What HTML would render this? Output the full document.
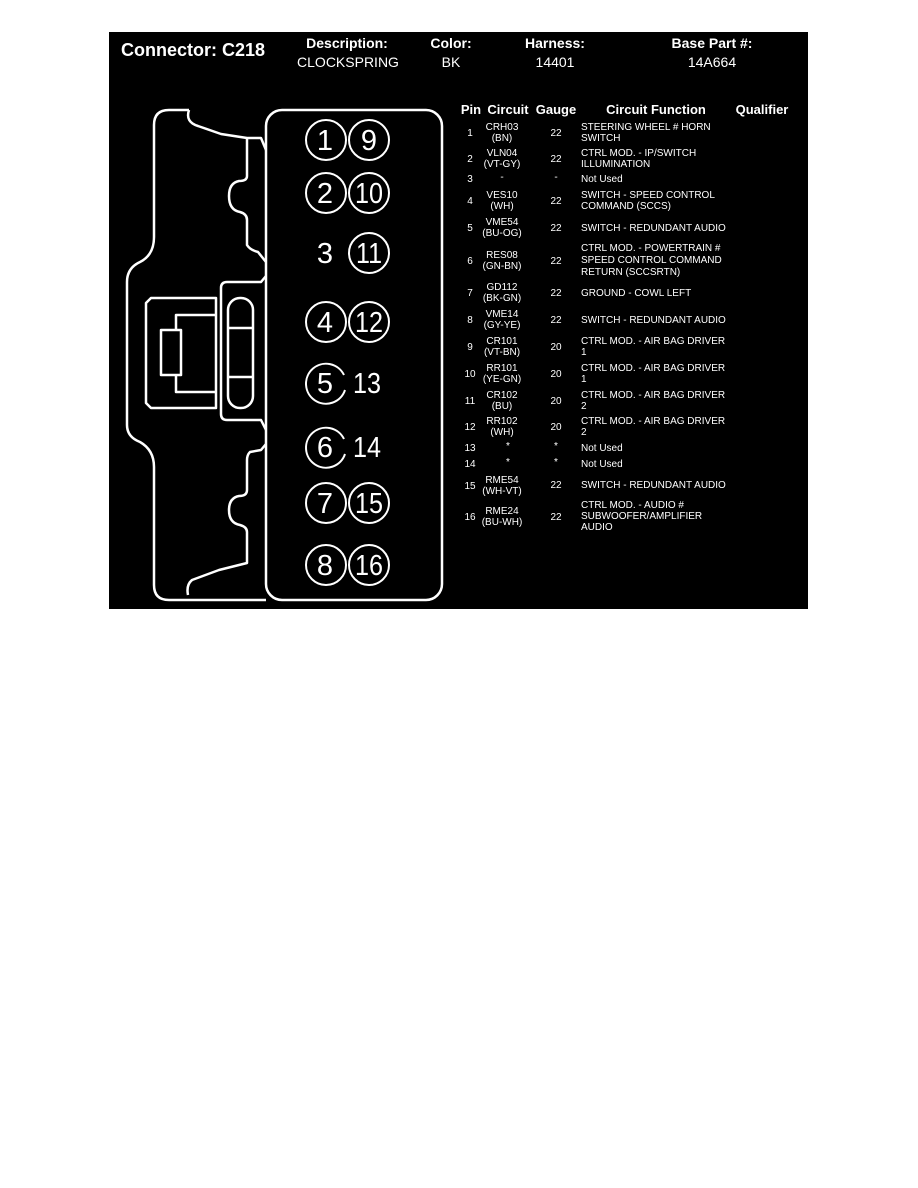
<!DOCTYPE html>
<html><head><meta charset="utf-8"><style>
body{margin:0;background:#fff;width:918px;height:1188px;position:relative;font-family:"Liberation Sans",Arial,sans-serif;}
#bk{position:absolute;left:109px;top:32px;width:699px;height:577px;background:#000;}
.t{position:absolute;color:#fff;white-space:nowrap;}
.c{transform:translateX(-50%);text-align:center;}
.h{font-weight:bold;font-size:14px;}
.s{font-size:10px;line-height:11px;}
</style></head><body>
<div id="bk"></div>
<div class="t" style="left:121px;top:40px;font-size:18px;font-weight:bold;">Connector: C218</div>
<div class="t c h" style="left:347px;top:35px;">Description:</div>
<div class="t c" style="left:348px;top:54px;font-size:14px;">CLOCKSPRING</div>
<div class="t c h" style="left:451px;top:35px;">Color:</div>
<div class="t c" style="left:451px;top:54px;font-size:14px;">BK</div>
<div class="t c h" style="left:555px;top:35px;">Harness:</div>
<div class="t c" style="left:555px;top:54px;font-size:14px;">14401</div>
<div class="t c h" style="left:712px;top:35px;">Base Part #:</div>
<div class="t c" style="left:712px;top:54px;font-size:14px;">14A664</div>

<svg style="position:absolute;left:0;top:0" width="918" height="1188" fill="none" stroke="#fff" stroke-width="2.5" stroke-linejoin="round">
<rect x="266" y="110" width="176" height="490" rx="16"/>
<path d="M189,110 L169,110 Q154,110 154,125 L154,237 Q154,255 140,262 Q127,268 127,282 L127,425 Q127,437 140,442 Q154,450 154,467 L154,585 Q154,600 169,600 L266,600"/>
<path d="M189,110 Q185,122 198,126 L221,134 L247,138 L261,138 L266,150"/>
<path d="M247,138 L247,176 Q247,181 239,181 Q229,183 229,196 Q229,210 240,212 Q247,214 247,220 L247,245 Q250,250 258,252 L266,262"/>
<path d="M266,276 L261,282 L227,282 Q221,282 221,288 L221,414 Q221,420 227,420 L261,420 L266,430"/>
<path d="M151,298 L216,298 L216,408 L151,408 L146,403 L146,303 Z"/>
<path d="M216,315 L176,315 L176,330 M176,375 L176,392 L216,392"/>
<rect x="161" y="330" width="20" height="45"/>
<rect x="228" y="298" width="25" height="110" rx="12"/>
<path d="M228,328 L253,328 M228,377 L253,377"/>
<path d="M266,444 L261,450 L250,452 Q247,455 247,460 L247,490 Q247,496 239,496 Q229,498 229,510 Q229,523 240,525 Q247,527 247,532 L247,563 L219,570 L192,580 Q186,585 188,595"/>
<g stroke-width="2">
<circle cx="326" cy="140" r="20"/><circle cx="369" cy="140" r="20"/>
<circle cx="326" cy="193" r="20"/><circle cx="369" cy="193" r="20"/>
<circle cx="369" cy="253" r="20"/>
<circle cx="326" cy="322" r="20"/><circle cx="369" cy="322" r="20"/>
<path d="M344,375 A20,20 0 1 0 345,390"/>
<path d="M344,439 A20,20 0 1 0 345,454"/>
<circle cx="326" cy="503" r="20"/><circle cx="369" cy="503" r="20"/>
<circle cx="326" cy="565" r="20"/><circle cx="369" cy="565" r="20"/>
</g>
<g fill="#fff" stroke="none" font-family="Liberation Sans, Arial, sans-serif" font-size="29" text-anchor="middle">
<text x="325" y="150">1</text><text x="369" y="150">9</text>
<text x="325" y="203">2</text><text x="369" y="203" textLength="28" lengthAdjust="spacingAndGlyphs">10</text>
<text x="325" y="263">3</text><text x="369" y="263" textLength="26" lengthAdjust="spacingAndGlyphs">11</text>
<text x="325" y="332">4</text><text x="369" y="332" textLength="28" lengthAdjust="spacingAndGlyphs">12</text>
<text x="325" y="393">5</text><text x="367" y="393" textLength="28" lengthAdjust="spacingAndGlyphs">13</text>
<text x="325" y="457">6</text><text x="367" y="457" textLength="28" lengthAdjust="spacingAndGlyphs">14</text>
<text x="325" y="513">7</text><text x="369" y="513" textLength="28" lengthAdjust="spacingAndGlyphs">15</text>
<text x="325" y="575">8</text><text x="369" y="575" textLength="28" lengthAdjust="spacingAndGlyphs">16</text>
</g>
</svg>

<div class="t c" style="left:471px;top:102px;font-size:13px;font-weight:bold;">Pin</div>
<div class="t c" style="left:508px;top:102px;font-size:13px;font-weight:bold;">Circuit</div>
<div class="t c" style="left:556px;top:102px;font-size:13px;font-weight:bold;">Gauge</div>
<div class="t c" style="left:656px;top:102px;font-size:13px;font-weight:bold;">Circuit Function</div>
<div class="t c" style="left:762px;top:102px;font-size:13px;font-weight:bold;">Qualifier</div>

<div class="t c s" style="left:470px;top:128px">1</div><div class="t c s" style="left:502px;top:122px">CRH03<br>(BN)</div><div class="t c s" style="left:556px;top:128px">22</div><div class="t s" style="left:581px;top:122px">STEERING WHEEL # HORN<br>SWITCH</div>
<div class="t c s" style="left:470px;top:154px">2</div><div class="t c s" style="left:502px;top:148px">VLN04<br>(VT-GY)</div><div class="t c s" style="left:556px;top:154px">22</div><div class="t s" style="left:581px;top:148px">CTRL MOD. - IP/SWITCH<br>ILLUMINATION</div>
<div class="t c s" style="left:470px;top:174px">3</div><div class="t c s" style="left:502px;top:172px">-</div><div class="t c s" style="left:556px;top:172px">-</div><div class="t s" style="left:581px;top:174px">Not Used</div>
<div class="t c s" style="left:470px;top:196px">4</div><div class="t c s" style="left:502px;top:190px">VES10<br>(WH)</div><div class="t c s" style="left:556px;top:196px">22</div><div class="t s" style="left:581px;top:190px">SWITCH - SPEED CONTROL<br>COMMAND (SCCS)</div>
<div class="t c s" style="left:470px;top:223px">5</div><div class="t c s" style="left:502px;top:217px">VME54<br>(BU-OG)</div><div class="t c s" style="left:556px;top:223px">22</div><div class="t s" style="left:581px;top:223px">SWITCH - REDUNDANT AUDIO</div>
<div class="t c s" style="left:470px;top:256px">6</div><div class="t c s" style="left:502px;top:250px">RES08<br>(GN-BN)</div><div class="t c s" style="left:556px;top:256px">22</div><div class="t s" style="left:581px;top:243px;line-height:12px">CTRL MOD. - POWERTRAIN #<br>SPEED CONTROL COMMAND<br>RETURN (SCCSRTN)</div>
<div class="t c s" style="left:470px;top:288px">7</div><div class="t c s" style="left:502px;top:282px">GD112<br>(BK-GN)</div><div class="t c s" style="left:556px;top:288px">22</div><div class="t s" style="left:581px;top:288px">GROUND - COWL LEFT</div>
<div class="t c s" style="left:470px;top:315px">8</div><div class="t c s" style="left:502px;top:309px">VME14<br>(GY-YE)</div><div class="t c s" style="left:556px;top:315px">22</div><div class="t s" style="left:581px;top:315px">SWITCH - REDUNDANT AUDIO</div>
<div class="t c s" style="left:470px;top:342px">9</div><div class="t c s" style="left:502px;top:336px">CR101<br>(VT-BN)</div><div class="t c s" style="left:556px;top:342px">20</div><div class="t s" style="left:581px;top:336px">CTRL MOD. - AIR BAG DRIVER<br>1</div>
<div class="t c s" style="left:470px;top:369px">10</div><div class="t c s" style="left:502px;top:363px">RR101<br>(YE-GN)</div><div class="t c s" style="left:556px;top:369px">20</div><div class="t s" style="left:581px;top:363px">CTRL MOD. - AIR BAG DRIVER<br>1</div>
<div class="t c s" style="left:470px;top:396px">11</div><div class="t c s" style="left:502px;top:390px">CR102<br>(BU)</div><div class="t c s" style="left:556px;top:396px">20</div><div class="t s" style="left:581px;top:390px">CTRL MOD. - AIR BAG DRIVER<br>2</div>
<div class="t c s" style="left:470px;top:422px">12</div><div class="t c s" style="left:502px;top:416px">RR102<br>(WH)</div><div class="t c s" style="left:556px;top:422px">20</div><div class="t s" style="left:581px;top:416px">CTRL MOD. - AIR BAG DRIVER<br>2</div>
<div class="t c s" style="left:470px;top:443px">13</div><div class="t c s" style="left:508px;top:441px">*</div><div class="t c s" style="left:556px;top:441px">*</div><div class="t s" style="left:581px;top:443px">Not Used</div>
<div class="t c s" style="left:470px;top:459px">14</div><div class="t c s" style="left:508px;top:457px">*</div><div class="t c s" style="left:556px;top:457px">*</div><div class="t s" style="left:581px;top:459px">Not Used</div>
<div class="t c s" style="left:470px;top:481px">15</div><div class="t c s" style="left:502px;top:475px">RME54<br>(WH-VT)</div><div class="t c s" style="left:556px;top:480px">22</div><div class="t s" style="left:581px;top:480px">SWITCH - REDUNDANT AUDIO</div>
<div class="t c s" style="left:470px;top:512px">16</div><div class="t c s" style="left:502px;top:506px">RME24<br>(BU-WH)</div><div class="t c s" style="left:556px;top:512px">22</div><div class="t s" style="left:581px;top:500px">CTRL MOD. - AUDIO #<br>SUBWOOFER/AMPLIFIER<br>AUDIO</div>
</body></html>
